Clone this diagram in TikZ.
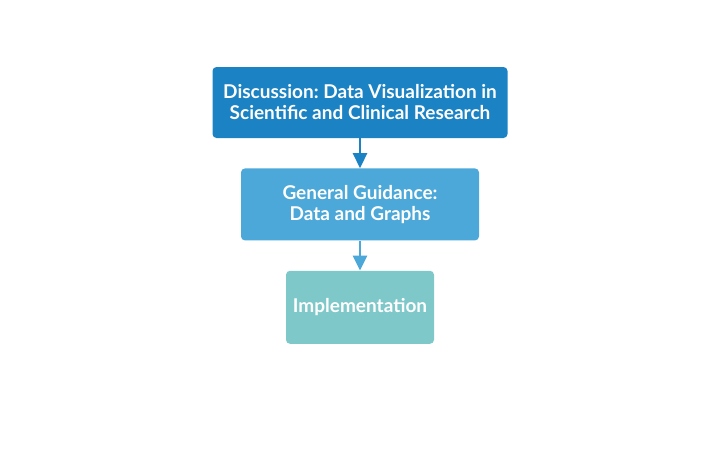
\documentclass[tikz,border=0pt]{standalone}
\usepackage{fontspec}
\setmainfont{Lato}
\frenchspacing
\usetikzlibrary{arrows.meta,positioning}

\definecolor{discblue}{RGB}{27,131,196}
\definecolor{guideblue}{RGB}{76,168,216}
\definecolor{impteal}{RGB}{127,200,201}

\begin{document}
\begin{tikzpicture}[x=1pt,y=1pt,node distance=30pt,>={Triangle[width=14pt,length=15pt]}]

  \tikzstyle{stage}=[rectangle,rounded corners=4pt,text=white,align=center,
                     font=\fontsize{19}{21}\selectfont\bfseries,
                     inner sep=0pt,minimum height=71pt]
  \tikzstyle{link}=[->,line width=2.6pt]

  \useasboundingbox (0,0) rectangle (720,-469);

  % Stages
  \node [stage,fill=discblue,minimum width=295pt] (disc) at (360,-102.5)
    {Discussion: Data Visualization in\\Scientific and Clinical Research};
  \node [stage,fill=guideblue,minimum width=238pt,minimum height=72pt]
    (guide) [below=of disc] {General Guidance:\\ Data and Graphs};
  \node [stage,fill=impteal,minimum width=148pt,minimum height=73pt]
    (impl) [below=of guide] {Implementation};

  % Links
  \draw [link,discblue]  (disc)  -- (guide);
  \draw [link,guideblue] (guide) -- (impl);
\end{tikzpicture}
\end{document}
